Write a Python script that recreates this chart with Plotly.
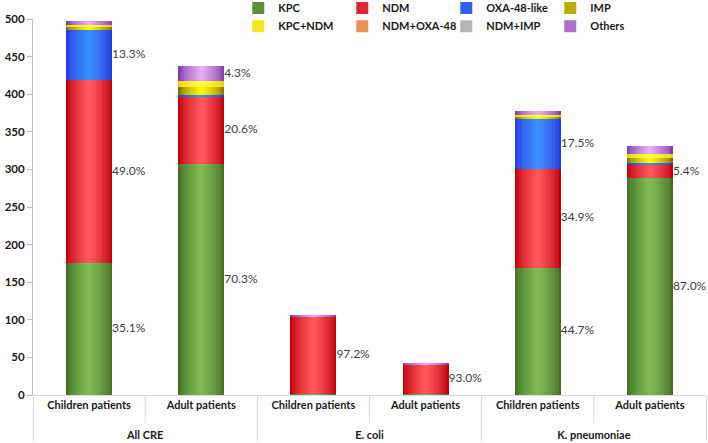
import plotly.graph_objects as go

# ---------------- data ----------------
groups = ["All CRE", "All CRE", "E. coli", "E. coli", "K. pneumoniae", "K. pneumoniae"]
patients = ["Children patients", "Adult patients"] * 3

series_names = ["KPC", "NDM", "OXA-48-like", "IMP", "KPC+NDM", "NDM+OXA-48", "NDM+IMP", "Others"]
KPC = [175, 307, 2, 1, 169, 288]
NDM = [244, 90, 103, 40, 132, 18]
OXA48 = [66, 2, 0, 0, 66, 3]
IMP = [5, 11, 0, 0, 3, 6]
KPC_NDM = [2, 8, 0, 0, 2, 6]
NDM_OXA48 = [0, 0, 0, 0, 0, 0]
NDM_IMP = [0, 0, 0, 0, 0, 0]
Others = [6, 19, 1, 2, 6, 10]
series_values = [KPC, NDM, OXA48, IMP, KPC_NDM, NDM_OXA48, NDM_IMP, Others]

# percentage labels (per series, per bar)
KPC_labels = ["35.1%", "70.3%", "", "", "44.7%", "87.0%"]
NDM_labels = ["49.0%", "20.6%", "97.2%", "93.0%", "34.9%", "5.4%"]
OXA48_labels = ["13.3%", "", "", "", "17.5%", ""]
Others_labels = ["", "4.3%", "", "", "", ""]
label_sets = {"KPC": KPC_labels, "NDM": NDM_labels, "OXA-48-like": OXA48_labels, "Others": Others_labels}

y_ticks = [0, 50, 100, 150, 200, 250, 300, 350, 400, 450, 500]

# ---------------- style ----------------
# (edge colour, centre colour) for a gradient-like fill
colors = {
    "KPC": ((68, 108, 38), (128, 188, 82)),
    "NDM": ((190, 0, 12), (255, 88, 92)),
    "OXA-48-like": ((38, 58, 222), (62, 142, 255)),
    "IMP": ((125, 112, 0), (255, 250, 10)),
    "KPC+NDM": ((232, 210, 0), (255, 255, 70)),
    "NDM+OXA-48": ((222, 112, 52), (250, 182, 132)),
    "NDM+IMP": ((150, 150, 150), (222, 222, 222)),
    "Others": ((128, 58, 170), (232, 172, 242)),
}
BAR_W = 0.41
LAYERS = 16
FONT = "Lato"


def mix(a, b, t):
    return "rgb(%d,%d,%d)" % tuple(round(a[i] + (b[i] - a[i]) * t) for i in range(3))


fig = go.Figure()
# outer labels get an empty first line so the group row sits lower, as in the reference
x_multi = [["<br>" + g for g in groups], patients]

base = [0] * len(groups)
for name, vals in zip(series_names, series_values):
    edge, centre = colors[name]
    for k in range(LAYERS):
        t = k / (LAYERS - 1)
        w = BAR_W * (1 - k / LAYERS)
        fig.add_trace(go.Bar(
            x=x_multi, y=vals, base=base, width=[w] * len(vals),
            marker=dict(color=mix(edge, centre, t ** 0.7), line=dict(width=0)),
            name=name, legendgroup=name,
            showlegend=False, hoverinfo="skip",
        ))
    # legend entry
    fig.add_trace(go.Bar(
        x=[None], y=[None], name=name, legendgroup=name,
        marker=dict(color=mix(edge, centre, 0.45), line=dict(width=0)),
        legend="legend" if series_names.index(name) < 4 else "legend2",
    ))
    if name in label_sets:
        labs = label_sets[name]
        xs, ys, ts = [], [], []
        for i, lab in enumerate(labs):
            if lab:
                xs.append(i + BAR_W / 2)
                ys.append(base[i] + vals[i] / 2)
                ts.append(lab)
        fig.add_trace(go.Scatter(
            x=xs, y=ys, text=ts, mode="text", textposition="middle right",
            textfont=dict(family=FONT, size=12, color="#404040"),
            xaxis="x2", showlegend=False, hoverinfo="skip",
        ))
    base = [b + v for b, v in zip(base, vals)]

# inner separators between Children / Adult within each group
for i in range(3):
    xf = (2 * i + 1) / 6
    fig.add_shape(type="line", xref="x domain", yref="y domain",
                  x0=xf, x1=xf, y0=0, y1=-0.075,
                  line=dict(color="#d9d9d9", width=1))

legend_common = dict(orientation="h", x=0.305, xanchor="left", yanchor="middle",
                     entrywidth=59, entrywidthmode="pixels", bgcolor="rgba(0,0,0,0)",
                     font=dict(family=FONT, size=11, color="#1a1a1a", weight="bold"),
                     traceorder="normal")

fig.update_layout(
    width=708, height=443,
    margin=dict(l=33, r=2, t=19, b=48, autoexpand=False),
    plot_bgcolor="white", paper_bgcolor="white",
    barmode="overlay", bargap=0,
    font=dict(family=FONT, color="#262626"),
    xaxis=dict(
        type="multicategory", showline=True, linecolor="#d9d9d9", linewidth=1,
        ticks="", showgrid=False, automargin=False,
        showdividers=True, dividercolor="#d9d9d9", dividerwidth=1,
        tickfont=dict(family=FONT, size=11, color="#1a1a1a", weight="bold"),
    ),
    xaxis2=dict(overlaying="x", range=[-0.5, 5.5], visible=False, fixedrange=True),
    yaxis=dict(
        range=[0, 500], tickvals=y_ticks, showgrid=False, zeroline=False,
        showline=True, linecolor="#bfbfbf", linewidth=1,
        ticks="outside", ticklen=5, tickcolor="#bfbfbf",
        tickfont=dict(family=FONT, size=11.5, color="#1a1a1a", weight="bold"),
        automargin=False,
    ),
    legend=dict(y=1.029, **legend_common),
    legend2=dict(y=0.981, **legend_common),
)

fig.write_html("out.html", config={"displayModeBar": False},
               post_script="document.body.style.margin='0';")
